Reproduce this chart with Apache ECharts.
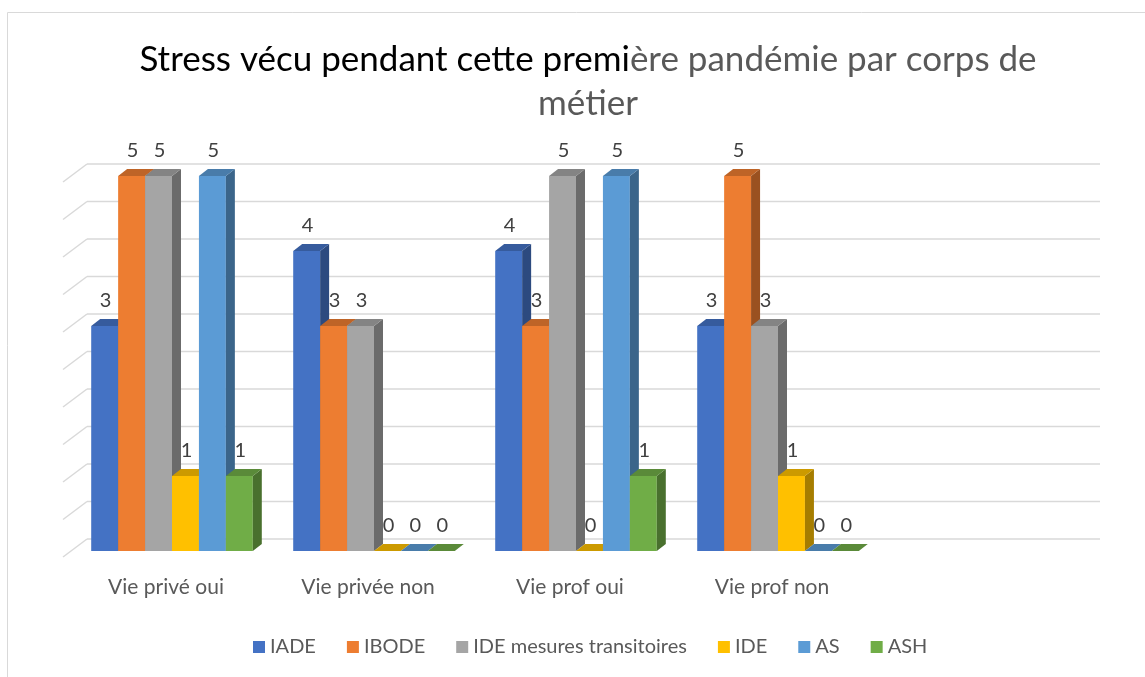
<!DOCTYPE html>
<html>
<head>
<meta charset="utf-8">
<script src="https://cdn.jsdelivr.net/npm/echarts@6/dist/echarts.min.js"></script>
<style>
  html, body { margin: 0; padding: 0; background: #fff; }
  #chart { width: 1145px; height: 677px; }
</style>
</head>
<body>
<div id="chart"></div>
<script>
// catégories (la 5e est vide, comme dans le classeur)
var categories = ["Vie privé oui", "Vie privée non", "Vie prof oui", "Vie prof non", ""];
var seriesNames = ["IADE", "IBODE", "IDE mesures transitoires", "IDE", "AS", "ASH"];
var colors = ["#4472C4", "#ED7D31", "#A5A5A5", "#FFC000", "#5B9BD5", "#70AD47"];

var iade = [3, 4, 4, 3];
var ibode = [5, 3, 3, 5];
var ideMesures = [5, 3, 5, 3];
var ide = [1, 0, 0, 1];
var as = [5, 0, 5, 0];
var ash = [1, 0, 1, 0];
var values = [iade, ibode, ideMesures, ide, as, ash];

// graduations du mur de fond
var wallTicks = [0, 0.5, 1, 1.5, 2, 2.5, 3, 3.5, 4, 4.5, 5];

var FONT = "Lato, 'Open Sans', sans-serif";
var DX = 9, DY = -7; // profondeur des barres

function shade(hex, f) {
  var n = parseInt(hex.slice(1), 16);
  var r = Math.round(((n >> 16) & 255) * f);
  var g = Math.round(((n >> 8) & 255) * f);
  var b = Math.round((n & 255) * f);
  return "rgb(" + r + "," + g + "," + b + ")";
}

var chart = echarts.init(document.getElementById("chart"));

// lignes du mur (fond + bord gauche en biais)
var wallSeries = {
  type: "custom",
  name: "wall",
  z: 1,
  silent: true,
  data: wallTicks.map(function (t) { return [0, t]; }),
  renderItem: function (params, api) {
    var cs = params.coordSys;
    var y = api.coord([0, api.value(1)])[1];
    var style = { stroke: "#d9d9d9", lineWidth: 1.5 };
    return {
      type: "group",
      children: [
        { type: "line", shape: { x1: cs.x + 16, y1: y - 12, x2: cs.x + cs.width + 19, y2: y - 12 }, style: style },
        { type: "line", shape: { x1: cs.x - 8, y1: y + 6, x2: cs.x + 16, y2: y - 12 }, style: style }
      ]
    };
  }
};

function barSeries(idx) {
  var base = colors[idx];
  return {
    type: "custom",
    name: seriesNames[idx],
    z: 2,
    itemStyle: { color: base },
    data: values[idx].map(function (v, i) { return [i, v]; }),
    renderItem: function (params, api) {
      var c = api.value(0), v = api.value(1);
      var top = api.coord([c, v]);
      var bottom = api.coord([c, 0]);
      var catW = api.size([1, 0])[0];
      var w = catW * 0.8 / 6;
      var x0 = top[0] - catW * 0.4 + idx * w;
      var x1 = x0 + w;
      var yT = top[1], yB = bottom[1];
      return {
        type: "group",
        children: [
          { type: "rect", shape: { x: x0, y: yT, width: w, height: yB - yT }, style: { fill: base } },
          { type: "polygon", shape: { points: [[x1, yT], [x1 + DX, yT + DY], [x1 + DX, yB + DY], [x1, yB]] }, style: { fill: shade(base, 0.65) } },
          { type: "polygon", shape: { points: [[x0, yT], [x0 + DX, yT + DY], [x1 + DX, yT + DY], [x1, yT]] }, style: { fill: shade(base, 0.8) } },
          { type: "text", z2: 100, style: { text: String(v), x: x0 + w / 2 + 1, y: yT - 25, align: "center", verticalAlign: "middle", font: "20px " + FONT, fill: "#404040" } }
        ]
      };
    }
  };
}

var series = [wallSeries];
for (var i = 0; i < seriesNames.length; i++) series.push(barSeries(i));

chart.setOption({
  animation: false,
  title: {
    text: "{a|Stress vécu pendant cette premi}{b|ère pandémie par corps de}\n{b|métier}",
    left: 583,
    top: 33,
    textAlign: "center",
    textStyle: {
      fontWeight: "normal",
      rich: {
        a: { fontFamily: FONT, fontSize: 35, fontWeight: "normal", color: "#000000", lineHeight: 44 },
        b: { fontFamily: FONT, fontSize: 35, fontWeight: "normal", color: "#595959", lineHeight: 44 }
      }
    }
  },
  legend: {
    data: seriesNames.map(function (n, i) { return { name: n, icon: "rect", itemStyle: { color: colors[i] } }; }),
    left: 248,
    top: 632,
    itemWidth: 12,
    itemHeight: 12,
    itemGap: 31,
    textStyle: { fontFamily: FONT, fontSize: 20, color: "#595959" }
  },
  graphic: [{
    type: "rect",
    shape: { x: 7.5, y: 12.5, width: 1200, height: 700 },
    style: { fill: "none", stroke: "#d9d9d9", lineWidth: 1 },
    silent: true
  }],
  grid: { left: 71, right: 64, top: 176, bottom: 126 },
  xAxis: {
    type: "category",
    data: categories,
    axisLine: { show: false },
    axisTick: { show: false },
    axisLabel: { margin: 26, fontFamily: FONT, fontSize: 21, color: "#595959", padding: [0, 12, 0, 0] }
  },
  yAxis: {
    type: "value",
    min: 0,
    max: 5,
    interval: 0.5,
    show: false,
    splitLine: { show: false }
  },
  series: series
});
</script>
</body>
</html>
